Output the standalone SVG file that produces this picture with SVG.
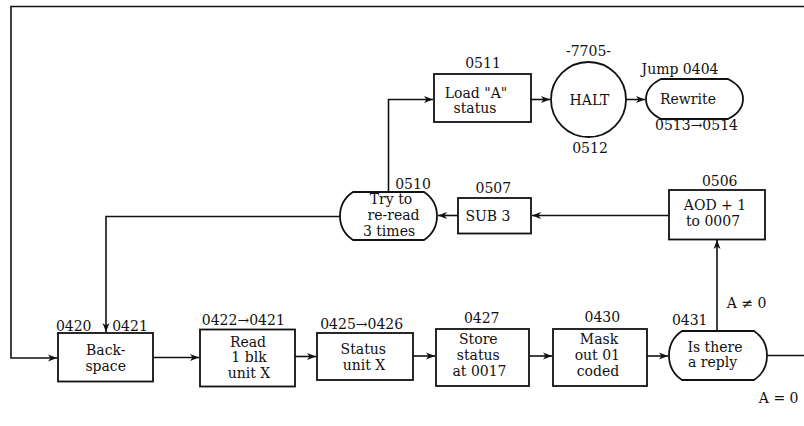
<svg xmlns="http://www.w3.org/2000/svg" width="804" height="426" viewBox="0 0 804 426">
<style>
.box{fill:#fff;stroke:#111;stroke-width:1.8}
.ln{fill:none;stroke:#111;stroke-width:1.6}
text{font-family:"DejaVu Serif","Liberation Serif",serif;font-size:14px;fill:#111;text-anchor:middle}
</style>
<defs>
<marker id="ar" markerUnits="userSpaceOnUse" markerWidth="10" markerHeight="8" refX="9" refY="4" orient="auto">
<path d="M0,0.5 L9,4 L0,7.5 L2.5,4 Z" fill="#111"/>
</marker>
</defs>
<rect width="804" height="426" fill="#fff"/>
<g id="connectors">
<path class="ln" d="M767,355.5 H812 V6.5 H11 V358 H57" marker-end="url(#ar)"/>
<path class="ln" d="M717,331 V240" marker-end="url(#ar)"/>
<path class="ln" d="M669,215.5 H532" marker-end="url(#ar)"/>
<path class="ln" d="M458,215.5 H438" marker-end="url(#ar)"/>
<path class="ln" d="M388.5,192 V99.5 H433" marker-end="url(#ar)"/>
<path class="ln" d="M340,216.5 H106 V332" marker-end="url(#ar)"/>
<path class="ln" d="M531,99.5 H550" marker-end="url(#ar)"/>
<path class="ln" d="M626,99.5 H645" marker-end="url(#ar)"/>
<path class="ln" d="M153,357.5 H199" marker-end="url(#ar)"/>
<path class="ln" d="M295,356.5 H316" marker-end="url(#ar)"/>
<path class="ln" d="M413,356 H435" marker-end="url(#ar)"/>
<path class="ln" d="M529,356 H552" marker-end="url(#ar)"/>
<path class="ln" d="M647,356 H668" marker-end="url(#ar)"/>
<text x="746.7" y="308.3">A ≠ 0</text>
<text x="778.7" y="402.7">A = 0</text>
</g>
<g id="n0511">
<rect class="box" x="434" y="74" width="97" height="48"/>
<text x="483" y="68">0511</text>
<text x="476" y="97.5">Load "A"</text>
<text x="475" y="113">status</text>
</g>
<g id="n0512">
<circle class="box" cx="588.5" cy="99.5" r="37.5"/>
<text x="588.5" y="56">-7705-</text>
<text x="589.5" y="104.5">HALT</text>
<text x="590" y="153">0512</text>
</g>
<g id="n0513">
<path class="box" d="M661,79 H728 C738,84 743,91 743,99 C743,107 738,114 728,119 H661 C651,114 646,107 646,99 C646,91 651,84 661,79 Z"/>
<text x="680" y="74">Jump 0404</text>
<text x="688" y="104">Rewrite</text>
<text x="696.5" y="130">0513→0514</text>
</g>
<g id="n0510">
<path class="box" d="M353,192 H424 C433,198 437,207 437,216 C437,225 433,234 424,240 H353 C344,234 340,225 340,216 C340,207 344,198 353,192 Z"/>
<text x="413" y="189.3">0510</text>
<text x="391" y="204">Try to</text>
<text x="393.5" y="220">re-read</text>
<text x="389" y="235.5">3 times</text>
</g>
<g id="n0507">
<rect class="box" x="458" y="198" width="73" height="35.5"/>
<text x="493.3" y="193.3">0507</text>
<text x="488" y="220.5">SUB 3</text>
</g>
<g id="n0506">
<rect class="box" x="669" y="190" width="96" height="49.5"/>
<text x="719.7" y="186">0506</text>
<text x="715" y="209.5">AOD + 1</text>
<text x="713" y="226">to 0007</text>
</g>
<g id="n0420">
<rect class="box" x="58" y="333" width="95" height="48.5"/>
<text x="73.7" y="330.7">0420</text>
<text x="130" y="330.7">0421</text>
<text x="105.8" y="355">Back-</text>
<text x="105.7" y="370.5">space</text>
</g>
<g id="n0422">
<rect class="box" x="200" y="329.5" width="95" height="57"/>
<text x="243.3" y="325">0422→0421</text>
<text x="248" y="346.7">Read</text>
<text x="249" y="362.3">1 blk</text>
<text x="249" y="377.7">unit X</text>
</g>
<g id="n0425">
<rect class="box" x="317" y="333" width="96" height="47"/>
<text x="361.7" y="329">0425→0426</text>
<text x="363.3" y="354">Status</text>
<text x="364" y="369.5">unit X</text>
</g>
<g id="n0427">
<rect class="box" x="436" y="329" width="93" height="57"/>
<text x="481.7" y="323.3">0427</text>
<text x="478.3" y="344">Store</text>
<text x="478.3" y="360">status</text>
<text x="479.5" y="375.5">at 0017</text>
</g>
<g id="n0430">
<rect class="box" x="553" y="329" width="94" height="57"/>
<text x="602.3" y="322.3">0430</text>
<text x="599" y="344">Mask</text>
<text x="597.3" y="360">out 01</text>
<text x="598" y="375.5">coded</text>
</g>
<g id="n0431">
<path class="box" d="M682,331 H754 C763,337 767,346 767,355.5 C767,365 763,374 754,380 H682 C673,374 669,365 669,355.5 C669,346 673,337 682,331 Z"/>
<text x="689.7" y="325">0431</text>
<text x="715" y="351.7">Is there</text>
<text x="712.5" y="367">a reply</text>
</g>
</svg>
